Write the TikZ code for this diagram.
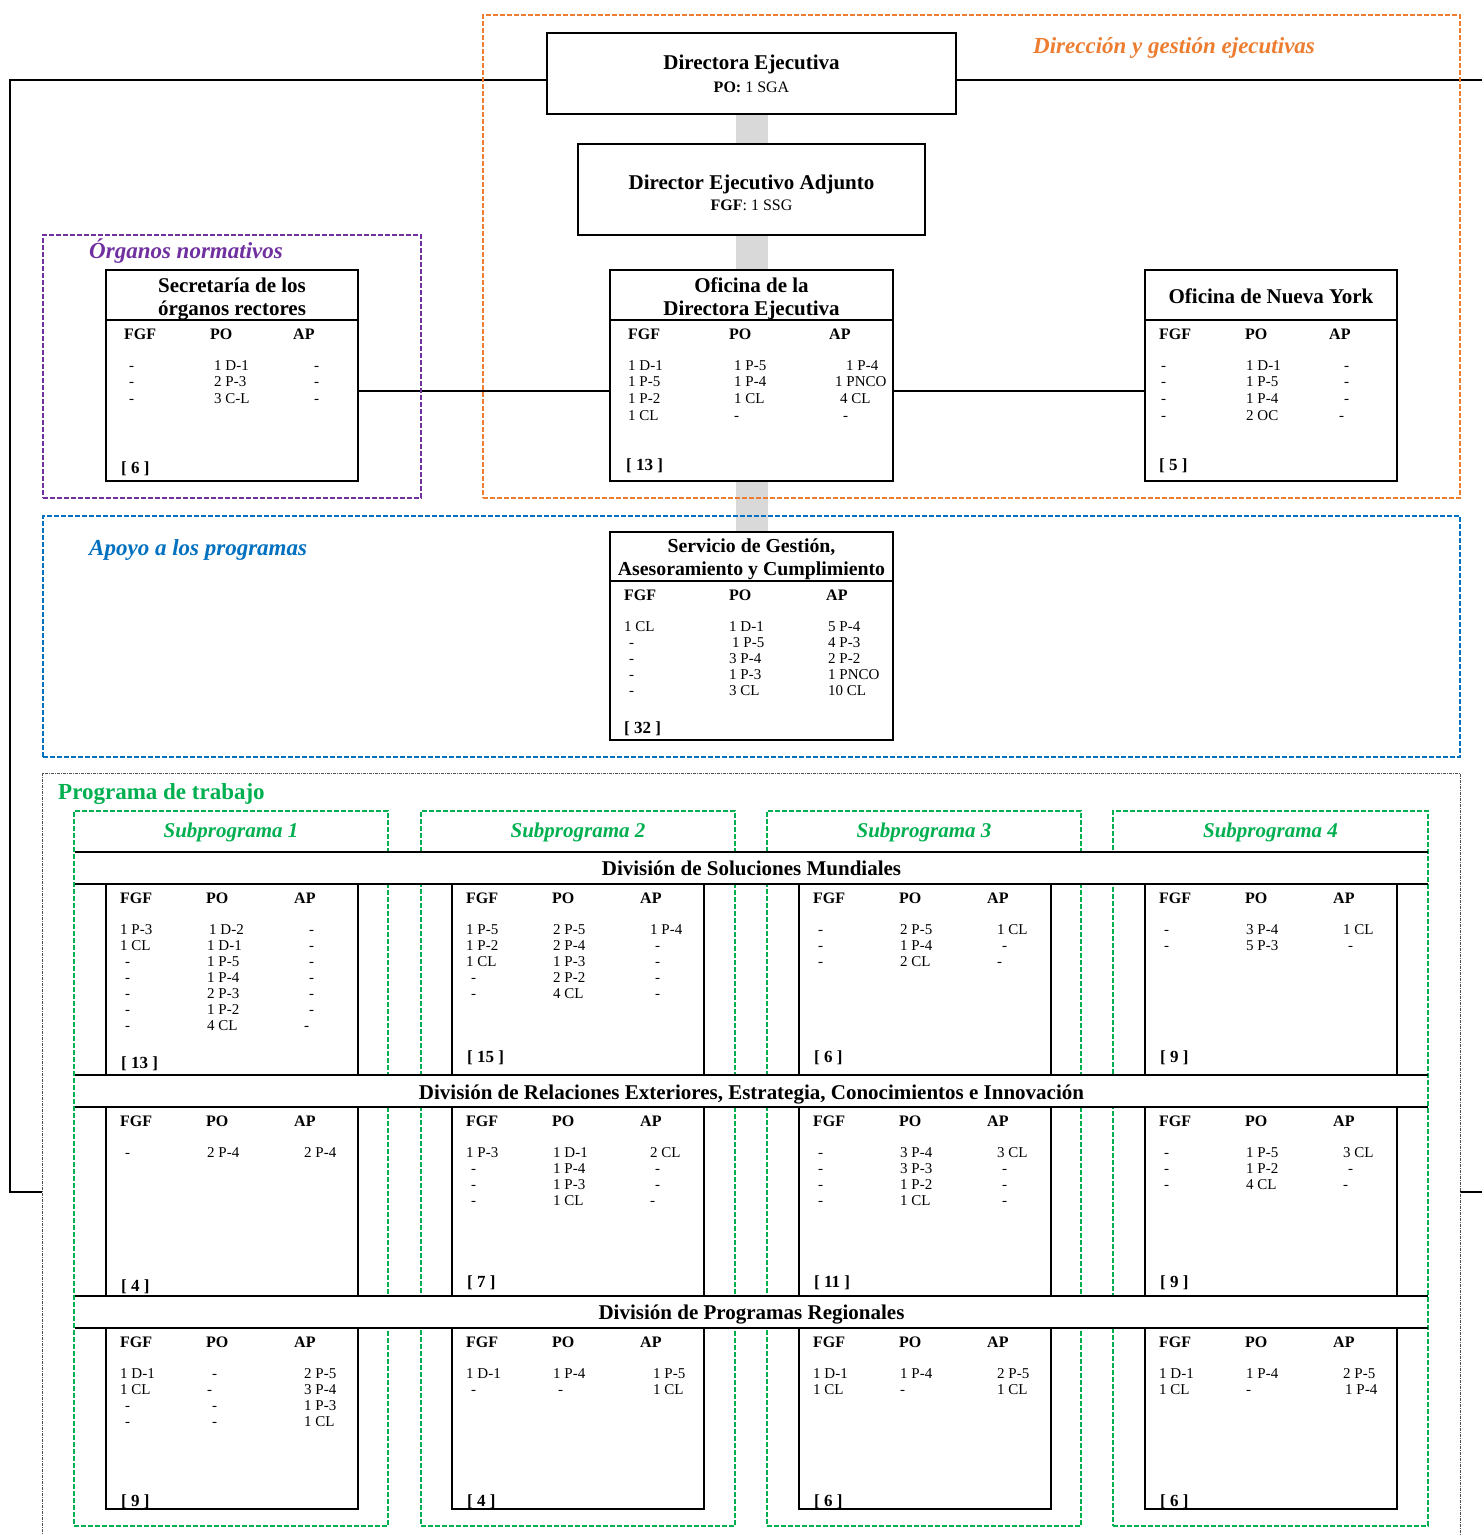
\documentclass[tikz,border=0pt]{standalone}
\usepackage{fontspec}
\setmainfont{Liberation Serif}
\definecolor{orng}{HTML}{ED7D31}
\definecolor{purp}{HTML}{7030A0}
\definecolor{blu}{HTML}{0070C0}
\definecolor{grn}{HTML}{00B050}
\definecolor{bandgray}{HTML}{D9D9D9}
\definecolor{pgray}{HTML}{505050}
\pgfdeclarelayer{bglayer}
\pgfdeclarelayer{bandlayer}
\pgfsetlayers{bglayer,bandlayer,main}
\newcommand{\dd}{\hspace*{5pt}-}
\def\shF{0}\def\shP{0}\def\shA{0}
\tikzset{
  box/.style={draw, line width=1.6pt, fill=white, anchor=north west, inner sep=0pt, outer sep=0pt},
  grp/.style={line width=1.6pt, dash pattern=on 5pt off 2pt, anchor=north west, inner sep=0pt, outer sep=0pt},
  ttl/.style={font=\fontsize{21}{23}\selectfont\bfseries, anchor=base, inner sep=0pt},
  subt/.style={font=\fontsize{16}{18}\selectfont, anchor=base, inner sep=0pt},
  hdr/.style={font=\fontsize{16}{18}\selectfont\bfseries, anchor=base west, inner sep=0pt},
  dat/.style={font=\fontsize{15}{16}\selectfont, anchor=base west, inner sep=0pt},
  tot/.style={font=\fontsize{17}{18}\selectfont\bfseries, anchor=base west, inner sep=0pt},
  seclbl/.style={font=\fontsize{23}{25}\selectfont\bfseries\itshape, anchor=base west, inner sep=0pt},
  splbl/.style={font=\fontsize{21}{23}\selectfont\bfseries\itshape, text=grn, anchor=base, inner sep=0pt},
  conn/.style={line width=1.6pt},
  bandline/.style={line width=32pt, draw=bandgray},
  divbar/.style={fill=white, anchor=north west, inner sep=0pt, outer sep=0pt, minimum width=1351pt, minimum height=32pt},
}
% name, header-line y, x FGF, x PO, x AP, fgf list, po list, ap list, step
\newcommand{\colset}[9]{%
  \node[hdr] (#1-hf) at (#3,{#2+19}) {FGF};
  \node[hdr] (#1-hp) at (#4,{#2+19}) {PO};
  \node[hdr] (#1-ha) at (#5,{#2+19}) {AP};
  \foreach \t [count=\i from 0] in {#6} {\node[dat] (#1-f\i) at ({#3+\shF},{#2+50+\i*#9}) {\t};}
  \foreach \t [count=\i from 0] in {#7} {\node[dat] (#1-p\i) at ({#4+\shP},{#2+50+\i*#9}) {\t};}
  \foreach \t [count=\i from 0] in {#8} {\node[dat] (#1-a\i) at ({#5+\shA},{#2+50+\i*#9}) {\t};}
}
% name, L, T, H, fgf, po, ap, total, total baseline
\newcommand{\gcell}[9]{%
  \node[box, minimum width=252pt, minimum height=#4] (#1) at (#2,#3) {};
  \colset{#1}{#3}{#2+14}{#2+100}{#2+188}{#5}{#6}{#7}{16}
  \node[tot] (#1-tot) at ({#2+15},#9) {[ #8 ]};
}
\begin{document}
\begin{tikzpicture}[x=1pt,y=-1pt]
\useasboundingbox (0,0) rectangle (1482,1535);
\begin{pgfonlayer}{bglayer}
\fill[white] (0,0) rectangle (1482,1535);
\end{pgfonlayer}
\clip (0,0) rectangle (1482,1535);

% ---------- connectors to the programme of work ----------
\coordinate (ly) at (0,80);
\coordinate (hy) at (0,391);
\coordinate (progL) at (42,1192);
\coordinate (progR) at (1460,1192);

% ---------- boxes ----------
\node[box, minimum width=409pt, minimum height=81pt] (de) at (547,33) {};
\node[box, minimum width=347pt, minimum height=91pt] (dea) at (578,144) {};
\node[box, minimum width=283pt, minimum height=211pt] (ode) at (610,270) {};
\node[box, minimum width=252pt, minimum height=211pt] (ny) at (1145,270) {};
\node[box, minimum width=252pt, minimum height=211pt] (sec) at (106,270) {};
\node[box, minimum width=283pt, minimum height=208pt] (sgac) at (610,532) {};
\draw[line width=1.6pt] (ode.west |- 0,320) coordinate (odeL) -- (ode.east |- odeL);
\draw[line width=1.6pt] (ny.west |- 0,320) coordinate (nyL) -- (ny.east |- nyL);
\draw[line width=1.6pt] (sec.west |- 0,320) coordinate (secL) -- (sec.east |- secL);
\draw[line width=1.6pt] (sgac.west |- 0,581) coordinate (sgL) -- (sgac.east |- sgL);

\draw[conn] (de.west |- ly) -| (10,1192) -- (progL);
\draw[conn] (de.east |- ly) -| (1500,1192) -- (progR);
\draw[conn] (sec.east |- hy) -- (ode.west |- hy);
\draw[conn] (ode.east |- hy) -- (ny.west |- hy);
\begin{pgfonlayer}{bandlayer}
\draw[bandline] (de.south) -- (sgac.north);
\end{pgfonlayer}

% ---------- group frames ----------
\node[grp, draw=orng, minimum width=977pt, minimum height=483pt] (gdir) at (483,15) {};
\node[grp, draw=purp, minimum width=378pt, minimum height=263pt] (gorg) at (43,235) {};
\node[grp, draw=blu, minimum width=1417pt, minimum height=241pt] (gapo) at (43,516) {};
\node[draw=pgray, line width=0.9pt, dash pattern=on 3pt off 1pt on 1pt off 1pt, anchor=north west, inner sep=0pt, outer sep=0pt, minimum width=1418pt, minimum height=800pt] (prog) at (42,773) {};

% ---------- group labels ----------
\node[seclbl, text=orng] (ldir) at (1033,53) {Dirección y gestión ejecutivas};
\node[seclbl, text=purp] (lorg) at (89,258) {Órganos normativos};
\node[seclbl, text=blu] (lapo) at (89,555) {Apoyo a los programas};
\node[font=\fontsize{23}{25}\selectfont\bfseries, text=grn, anchor=base west, inner sep=0pt] (lprog) at (58,799) {Programa de trabajo};

% ---------- top box texts ----------
\node[ttl] (de-t) at (751.5,69) {Directora Ejecutiva};
\node[subt] (de-s) at (751.5,92) {\textbf{PO:} 1 SGA};
\node[ttl] (dea-t) at (751.5,189) {Director Ejecutivo Adjunto};
\node[subt] (dea-s) at (751.5,210) {\textbf{FGF}: 1 SSG};

\node[ttl] (ode-t1) at (751.5,292) {Oficina de la};
\node[ttl] (ode-t2) at (751.5,315) {Directora Ejecutiva};
\def\shF{0}\def\shP{5}\def\shA{6}
\colset{odec}{320}{628}{729}{829}{1 D-1, 1 P-5, 1 P-2, 1 CL}{1 P-5, 1 P-4, 1 CL, -}{\hspace*{11pt}1 P-4, 1 PNCO, \hspace*{5pt}4 CL, \hspace*{8pt}-}{16.7}
\node[tot] (ode-tot) at (626,470) {[ 13 ]};

\node[ttl] (ny-t) at (1271,303) {Oficina de Nueva York};
\def\shF{0}\def\shP{1}\def\shA{10}
\colset{nyc}{320}{1159}{1245}{1329}{\hspace*{2pt}-, \hspace*{2pt}-, \hspace*{2pt}-, \hspace*{2pt}-}{1 D-1, 1 P-5, 1 P-4, 2 OC}{\dd, \dd, \dd, -}{16.7}
\node[tot] (ny-tot) at (1159,470) {[ 5 ]};

\node[ttl] (sec-t1) at (232,292) {Secretaría de los};
\node[ttl] (sec-t2) at (232,315) {órganos rectores};
\def\shF{0}\def\shP{4}\def\shA{16}
\colset{secc}{320}{124}{210}{293}{\dd, \dd, \dd}{1 D-1, 2 P-3, 3 C-L}{\dd, \dd, \dd}{16.7}
\node[tot] (sec-tot) at (121,473) {[ 6 ]};

\node[ttl, font=\fontsize{19.8}{22}\selectfont\bfseries] (sg-t1) at (751.5,552) {Servicio de Gestión,};
\node[ttl, font=\fontsize{19.8}{22}\selectfont\bfseries] (sg-t2) at (751.5,575) {Asesoramiento y Cumplimiento};
\def\shF{0}\def\shP{0}\def\shA{2}
\colset{sgc}{581}{624}{729}{826}{1 CL, \dd, \dd, \dd, \dd}{1 D-1, \hspace*{3pt}1 P-5, 3 P-4, 1 P-3, 3 CL}{5 P-4, 4 P-3, 2 P-2, 1 PNCO, 10 CL}{16}
\node[tot] (sg-tot) at (624,733) {[ 32 ]};

% ---------- programme of work ----------
\node[grp, draw=grn, minimum width=314pt, minimum height=715pt] (sp1) at (74,811) {};
\node[grp, draw=grn, minimum width=314pt, minimum height=715pt] (sp2) at (421,811) {};
\node[grp, draw=grn, minimum width=314pt, minimum height=715pt] (sp3) at (767,811) {};
\node[grp, draw=grn, minimum width=315pt, minimum height=715pt] (sp4) at (1113,811) {};
\node[splbl] (sp1-l) at (231,837) {Subprograma 1};
\node[splbl] (sp2-l) at (578,837) {Subprograma 2};
\node[splbl] (sp3-l) at (924,837) {Subprograma 3};
\node[splbl] (sp4-l) at (1270.5,837) {Subprograma 4};

\node[divbar] (dv1) at (76,852) {};
\node[divbar] (dv2) at (76,1075) {};
\node[divbar] (dv3) at (76,1296) {};
\foreach \d in {dv1,dv2,dv3} {
  \draw[line width=1.6pt] ([xshift=-1pt]\d.north west) -- ([xshift=1pt]\d.north east);
  \draw[line width=1.6pt] ([xshift=-1pt]\d.south west) -- ([xshift=1pt]\d.south east);
}
\node[ttl] (dv1-t) at (751.5,875) {División de Soluciones Mundiales};
\node[ttl] (dv2-t) at (751.5,1099) {División de Relaciones Exteriores, Estrategia, Conocimientos e Innovación};
\node[ttl] (dv3-t) at (751.5,1319) {División de Programas Regionales};

\def\shF{0}\def\shP{1}\def\shA{10}
% row 1
\gcell{c11}{106}{884}{191}{1 P-3, 1 CL, \dd, \dd, \dd, \dd, \dd}{\hspace*{2pt}1 D-2, 1 D-1, 1 P-5, 1 P-4, 2 P-3, 1 P-2, 4 CL}{\dd, \dd, \dd, \dd, \dd, \dd, -}{13}{1068}
\gcell{c12}{452}{884}{191}{1 P-5, 1 P-2, 1 CL, \dd, \dd}{2 P-5, 2 P-4, 1 P-3, 2 P-2, 4 CL}{1 P-4, \dd, \dd, \dd, \dd}{15}{1062}
\gcell{c13}{799}{884}{191}{\dd, \dd, \dd}{2 P-5, 1 P-4, 2 CL}{1 CL, \dd, -}{6}{1062}
\gcell{c14}{1145}{884}{191}{\dd, \dd}{3 P-4, 5 P-3}{1 CL, \dd}{9}{1062}
% row 2
\gcell{c21}{106}{1107}{189}{\dd}{2 P-4}{2 P-4}{4}{1291}
\gcell{c22}{452}{1107}{189}{1 P-3, \dd, \dd, \dd}{1 D-1, 1 P-4, 1 P-3, 1 CL}{2 CL, \dd, \dd, -}{7}{1287}
\gcell{c23}{799}{1107}{189}{\dd, \dd, \dd, \dd}{3 P-4, 3 P-3, 1 P-2, 1 CL}{3 CL, \dd, \dd, \dd}{11}{1287}
\gcell{c24}{1145}{1107}{189}{\dd, \dd, \dd}{1 P-5, 1 P-2, 4 CL}{3 CL, \dd, -}{9}{1287}
% row 3
\gcell{c31}{106}{1328}{181}{1 D-1, 1 CL, \dd, \dd}{\dd, -, \dd, \dd}{2 P-5, 3 P-4, 1 P-3, 1 CL}{9}{1506}
\gcell{c32}{452}{1328}{181}{1 D-1, \dd}{1 P-4, \dd}{\hspace*{3pt}1 P-5, \hspace*{3pt}1 CL}{4}{1506}
\gcell{c33}{799}{1328}{181}{1 D-1, 1 CL}{1 P-4, -}{2 P-5, 1 CL}{6}{1506}
\gcell{c34}{1145}{1328}{181}{1 D-1, 1 CL}{1 P-4, -}{2 P-5, \hspace*{2pt}1 P-4}{6}{1506}
\end{tikzpicture}
\end{document}
